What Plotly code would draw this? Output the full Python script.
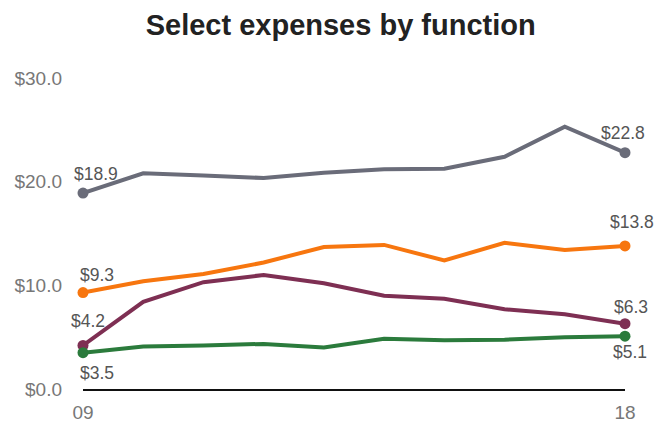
import plotly.graph_objects as go

years = [2009, 2010, 2011, 2012, 2013, 2014, 2015, 2016, 2017, 2018]
gray_vals = [18.9, 20.8, 20.6, 20.35, 20.85, 21.2, 21.25, 22.4, 25.3, 22.8]
orange_vals = [9.3, 10.4, 11.1, 12.2, 13.7, 13.9, 12.4, 14.1, 13.4, 13.8]
maroon_vals = [4.2, 8.4, 10.3, 11.0, 10.2, 9.0, 8.7, 7.7, 7.2, 6.3]
green_vals = [3.5, 4.1, 4.2, 4.35, 4.0, 4.85, 4.7, 4.75, 5.0, 5.1]

series = [
    ("Gray", gray_vals, "#6a6c79", (13, 19), (-2, 20)),
    ("Orange", orange_vals, "#f7760f", (14, 18), (7, 24)),
    ("Maroon", maroon_vals, "#7e2f53", (5, 24), (6, 17)),
    ("Green", green_vals, "#2b7b3c", (14, -20), (5, -16)),
]

y_ticks = [0, 10, 20, 30]
y_ticktext = ["$0.0", "$10.0", "$20.0", "$30.0"]
x_ticks = [2009, 2018]
x_ticktext = ["09", "18"]

FONT = "Liberation Sans, Arial, sans-serif"

fig = go.Figure()
annotations = []
for name, vals, color, s0, s1 in series:
    fig.add_trace(go.Scatter(
        x=years, y=vals, mode="lines", name=name,
        line=dict(color=color, width=4), cliponaxis=False, showlegend=False))
    fig.add_trace(go.Scatter(
        x=[years[0], years[-1]], y=[vals[0], vals[-1]], mode="markers",
        marker=dict(color=color, size=11), cliponaxis=False, showlegend=False))
    for (xv, yv, sh) in [(years[0], vals[0], s0), (years[-1], vals[-1], s1)]:
        annotations.append(dict(
            x=xv, y=yv, xref="x", yref="y", text=f"${yv:.1f}", showarrow=False,
            xshift=sh[0], yshift=sh[1],
            font=dict(size=17.5, color="#555555", family=FONT)))

fig.update_layout(
    width=668, height=425,
    margin=dict(l=83, r=43, t=78, b=35.5, autoexpand=False),
    paper_bgcolor="white", plot_bgcolor="white",
    font=dict(family=FONT, color="#777777"),
    title=dict(text="<b>Select expenses by function</b>", x=0.51, xanchor="center",
               y=1 - 25 / 425, yanchor="middle",
               font=dict(size=29, color="#222222")),
    annotations=annotations,
    xaxis=dict(range=[2009, 2018], tickvals=x_ticks, ticktext=x_ticktext,
               showgrid=False, zeroline=False, showline=True, linecolor="#111111",
               linewidth=1.5, ticks="", ticklabelstandoff=5, automargin=False,
               tickfont=dict(size=19, color="#777777")),
    yaxis=dict(range=[0, 30], tickvals=y_ticks, ticktext=y_ticktext,
               showgrid=False, zeroline=False, showline=False, ticks="",
               ticklabelstandoff=20, automargin=False,
               tickfont=dict(size=19, color="#777777")),
)

fig.write_html("out.html")
